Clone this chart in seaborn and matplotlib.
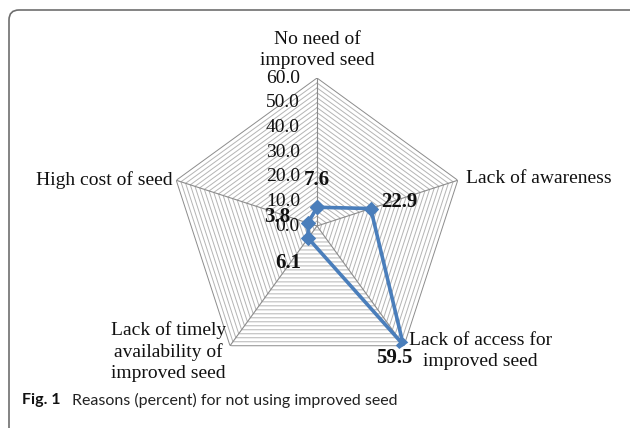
import numpy as np
import pandas as pd
import matplotlib
matplotlib.use("Agg")
import matplotlib.pyplot as plt
from matplotlib.patches import FancyBboxPatch
import seaborn as sns

categories = ["No need of\nimproved seed", "Lack of awareness",
              "Lack of access for\nimproved seed",
              "Lack of timely\navailability of\nimproved seed",
              "High cost of seed"]
values = [7.6, 22.9, 59.5, 6.1, 3.8]
tick_values = [0, 10, 20, 30, 40, 50, 60]
tick_labels = ["0.0", "10.0", "20.0", "30.0", "40.0", "50.0", "60.0"]
grid_step = 2
r_max = 60

sns.set_style("white")
plt.rcParams['font.family'] = ['Liberation Serif', 'DejaVu Serif']

fig = plt.figure(figsize=(6.3, 4.28), dpi=100)
ax = fig.add_axes([169/630, 54/428, 296/630, 296/428], projection='polar')
ax.set_theta_zero_location('N')
ax.set_theta_direction(-1)
ax.set_ylim(0, r_max)
ax.grid(False)
ax.spines['polar'].set_visible(False)
ax.patch.set_alpha(0)

n = len(categories)
theta = np.arange(n) * 2 * np.pi / n
theta_closed = np.append(theta, theta[0])

# pentagon grid rings
for r in np.arange(0, r_max + 0.01, grid_step):
    col = '#8c8c8c' if r == r_max else '#b4b4b4'
    ax.plot(theta_closed, [r] * (n + 1), color=col, lw=0.7, zorder=1)
# spokes
for t in theta:
    ax.plot([t, t], [0, r_max], color='#8c8c8c', lw=0.8, zorder=1)

df = pd.DataFrame({"theta": theta_closed, "value": values + [values[0]]})
sns.lineplot(data=df, x="theta", y="value", sort=False, ax=ax,
             color='#4a7ebb', lw=2.6, marker='D', markersize=7,
             markeredgecolor='#4a7ebb', zorder=5, estimator=None)
ax.set_xlabel("")
ax.set_ylabel("")
ax.set_xticks([])
ax.set_yticks([])
ax.set_ylim(0, r_max)

fs = 14
# tick labels along first spoke
for tv, tl in zip(tick_values, tick_labels):
    ax.annotate(tl, xy=(0, tv), xytext=(-17, 0), textcoords='offset pixels',
                ha='right', va='center', fontsize=fs, color='#111111')

# category labels
cat_style = [
    dict(xytext=(0, 9), ha='center', va='bottom'),
    dict(xytext=(8, 2), ha='left', va='center'),
    dict(xytext=(5, -5), ha='left', va='center'),
    dict(xytext=(-4, -6), ha='right', va='center'),
    dict(xytext=(-4, 0), ha='right', va='center'),
]
for t, c, st in zip(theta, categories, cat_style):
    ax.annotate(c, xy=(t, r_max), textcoords='offset pixels',
                multialignment='center', fontsize=fs, color='#111111',
                linespacing=1.3, annotation_clip=False, **st)

# data labels
lab_off = [(0, 27), (29, 7), (-9, -13), (-20, -25), (-31, 6)]
for t, v, off in zip(theta, values, lab_off):
    ax.annotate(f"{v:.1f}", xy=(t, v), xytext=off, textcoords='offset pixels',
                ha='center', va='center', fontsize=15, fontweight='bold',
                color='#111111', zorder=6)

# caption
fig.text(22/630, 1 - 400/428, "Fig. 1", fontsize=11.5, fontweight='bold',
         family=['Lato', 'DejaVu Sans'], va='center', ha='left', color='#111111')
fig.text(72/630, 1 - 400/428, "Reasons (percent) for not using improved seed",
         fontsize=11.5, family=['Lato', 'DejaVu Sans'], va='center', ha='left',
         color='#222222')

# rounded border
box = FancyBboxPatch((0.09, -0.2), 6.4, 4.38, boxstyle="round,pad=0,rounding_size=0.1",
                     transform=fig.dpi_scale_trans, fill=False, edgecolor='#6e6e6e',
                     lw=1.2, clip_on=False)
fig.patches.append(box)

fig.savefig("out.png", dpi=100)
